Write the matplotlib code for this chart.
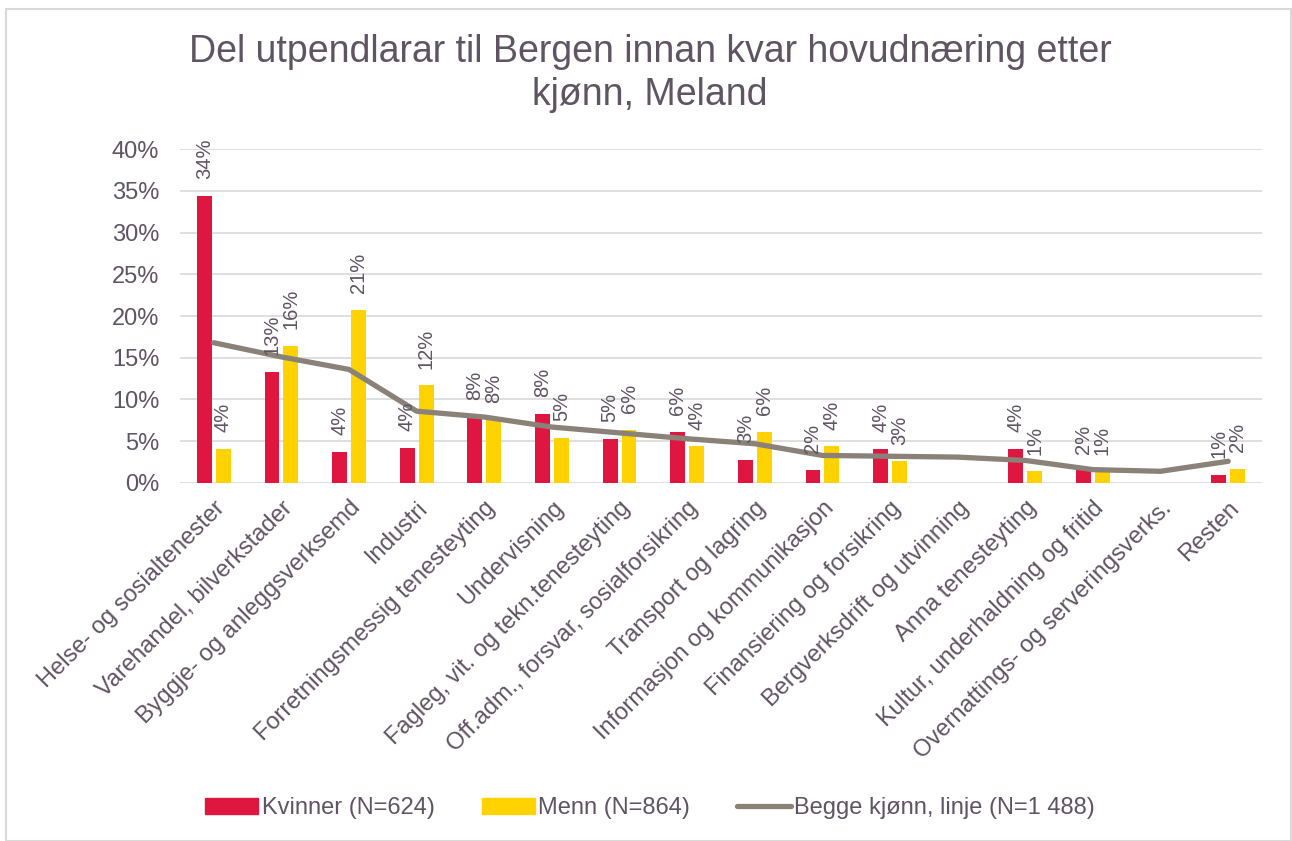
import numpy as np
import matplotlib
matplotlib.use("Agg")
import matplotlib.pyplot as plt
from matplotlib.patches import Patch, Rectangle
from matplotlib.lines import Line2D
from matplotlib.ticker import PercentFormatter

categories = [
    "Helse- og sosialtenester",
    "Varehandel, bilverkstader",
    "Byggje- og anleggsverksemd",
    "Industri",
    "Forretningsmessig tenesteyting",
    "Undervisning",
    "Fagleg, vit. og tekn.tenesteyting",
    "Off.adm., forsvar, sosialforsikring",
    "Transport og lagring",
    "Informasjon og kommunikasjon",
    "Finansiering og forsikring",
    "Bergverksdrift og utvinning",
    "Anna tenesteyting",
    "Kultur, underhaldning og fritid",
    "Overnattings- og serveringsverks.",
    "Resten",
]
kvinner = [34.4, 13.3, 3.7, 4.2, 7.9, 8.3, 5.3, 6.1, 2.8, 1.6, 4.1, np.nan, 4.1, 1.5, np.nan, 1.0]
menn = [4.1, 16.4, 20.7, 11.7, 7.6, 5.4, 6.4, 4.4, 6.1, 4.4, 2.6, np.nan, 1.4, 1.3, np.nan, 1.7]
begge = [16.8, 15.1, 13.6, 8.6, 7.9, 6.7, 6.0, 5.3, 4.7, 3.3, 3.2, 3.1, 2.7, 1.6, 1.4, 2.6]

labels_legend = ["Kvinner (N=624)", "Menn (N=864)", "Begge kjønn, linje (N=1 488)"]

txt = "#5E5462"
red = "#DF1740"
yellow = "#FFD200"
grey = "#8A8178"

plt.rcParams["font.family"] = ["Liberation Sans", "DejaVu Sans"]

fig = plt.figure(figsize=(12.92, 8.41), dpi=100)
ax = fig.add_axes([0.1393, 0.4257, 0.8375, 0.3971])

x = np.arange(len(categories))
k = np.array(kvinner) / 100
m = np.array(menn) / 100
b = np.array(begge) / 100
w = 0.22

ax.bar(x - 0.14, k, width=w, color=red, zorder=2)
ax.bar(x + 0.14, m, width=w, color=yellow, zorder=2)
ax.plot(x, b, color=grey, lw=3.8, solid_capstyle="round", zorder=3)

for xs, vals in ((x - 0.14, k), (x + 0.14, m)):
    for xi, v in zip(xs, vals):
        if np.isnan(v):
            continue
        ax.annotate(f"{v * 100:.0f}%", (xi, v), xytext=(0, 12), textcoords="offset points",
                    rotation=90, ha="center", va="bottom", fontsize=14.5, color=txt, zorder=4)

ax.set_xlim(-0.5, len(categories) - 0.5)
ax.set_ylim(0, 0.40)
ax.set_yticks(np.arange(0, 0.41, 0.05))
ax.yaxis.set_major_formatter(PercentFormatter(1.0, decimals=0))
ax.grid(axis="y", color="#D9D9D9", lw=1.2, zorder=0)
ax.set_axisbelow(True)
for s in ax.spines.values():
    s.set_visible(False)
ax.tick_params(axis="both", length=0, colors=txt, labelsize=17)
ax.tick_params(axis="y", pad=15)
ax.set_xticks(x)
ax.set_xticklabels(categories, rotation=45, ha="right", va="top", rotation_mode="anchor")
ax.tick_params(axis="x", labelsize=17, pad=10)

fig.text(0.503, 0.913, "Del utpendlarar til Bergen innan kvar hovudnæring etter\nkjønn, Meland",
         ha="center", va="center", fontsize=27, color=txt, linespacing=1.25)

handles = [
    Patch(color=red),
    Patch(color=yellow),
    Line2D([], [], color=grey, lw=3.8, solid_capstyle="round"),
]
fig.legend(handles, labels_legend, loc="center", bbox_to_anchor=(0.503, 0.039), ncol=3,
           frameon=False, fontsize=17, labelcolor=txt, handlelength=2.25, handletextpad=0.15,
           columnspacing=2.0)

fig.patches.append(Rectangle((0.005, 0.0), 0.994, 0.989, transform=fig.transFigure,
                             fill=False, edgecolor="#D9D9D9", lw=1.5))

fig.savefig("out.png", dpi=100)
